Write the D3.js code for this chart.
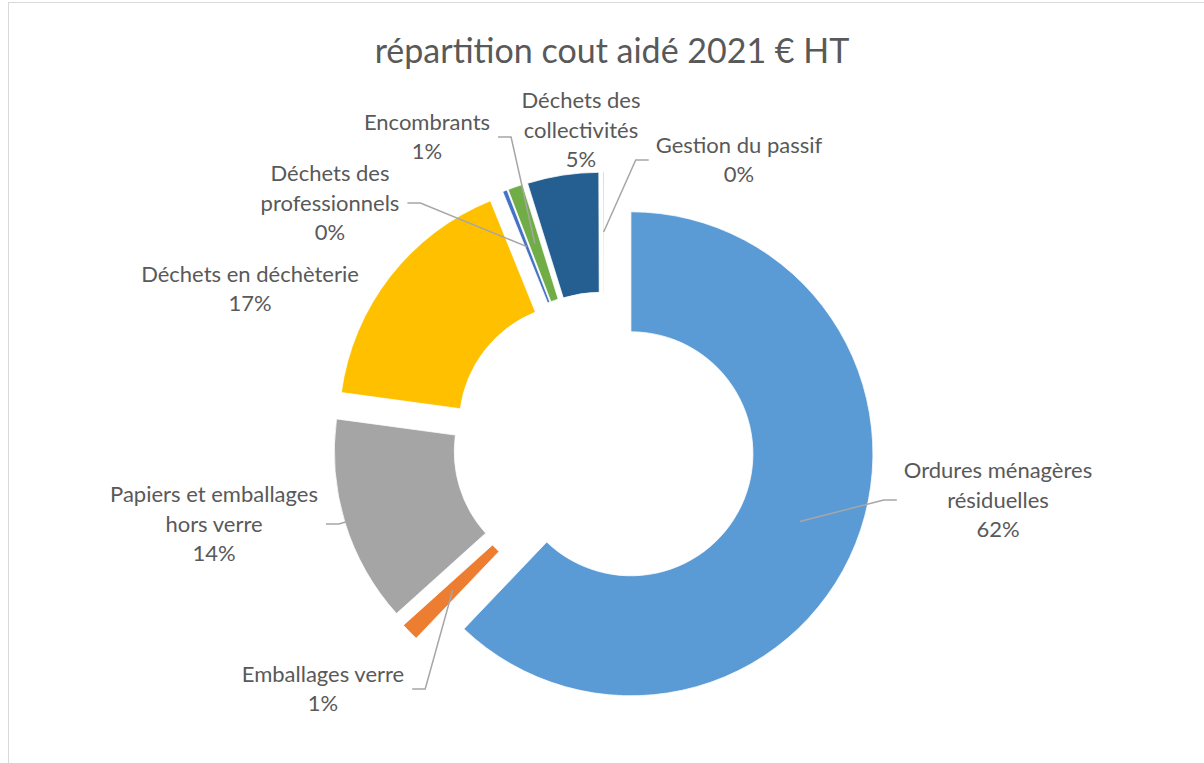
<!DOCTYPE html>
<html>
<head>
<meta charset="utf-8">
<script src="https://cdn.jsdelivr.net/npm/d3@7"></script>
<style>
  body { margin: 0; background: #fff; }
  text { font-family: Lato, "Open Sans", sans-serif; fill: #595959; }
</style>
</head>
<body>
<div id="chart"></div>
<script>
// data
var categories = ["Ordures ménagères résiduelles", "Emballages verre", "Papiers et emballages hors verre",
                  "Déchets en déchèterie", "Déchets des professionnels", "Encombrants",
                  "Déchets des collectivités", "Gestion du passif"];
var values = [62.0, 1.2, 13.8, 16.7, 0.3, 1.0, 4.75, 0.05];
var colors = ["#5B9BD5", "#ED7D31", "#A5A5A5", "#FFC000", "#4472C4", "#70AD47", "#255E91", "#9E480E"];
var title = "répartition cout aidé 2021 € HT";

// how each label is wrapped, and where its block sits
var labelLines = [["Ordures ménagères", "résiduelles"], ["Emballages verre"], ["Papiers et emballages", "hors verre"],
                  ["Déchets en déchèterie"], ["Déchets des", "professionnels"], ["Encombrants"],
                  ["Déchets des", "collectivités"], ["Gestion du passif"]];
var labelPos = [
  {x: 998, y: 500, stub: "left"},
  {x: 323, y: 689, stub: "right"},
  {x: 214, y: 524, stub: "right"},
  {x: 250, y: 289, stub: null},
  {x: 330, y: 203, stub: "right"},
  {x: 427, y: 137, stub: "right"},
  {x: 581, y: 130, stub: null},
  {x: 739, y: 160, stub: "left"}
];

var width = 1204, height = 763;
var cx = 604, cy = 443, outerR = 242, innerR = 122, explode = 29;
var lineH = 29.5;

var svg = d3.select("#chart")
            .append("svg")
            .attr("width", width)
            .attr("height", height);

// chart area border
svg.append("rect")
   .attr("x", 8.5).attr("y", 2.5)
   .attr("width", width + 10).attr("height", height + 10)
   .attr("fill", "none")
   .attr("stroke", "#D9D9D9");

svg.append("text")
   .attr("x", 612)
   .attr("y", 63)
   .attr("text-anchor", "middle")
   .style("font-size", "34px")
   .text(title);

var total = d3.sum(values);
var pie = d3.pie().sort(null).value(function(d) { return d; });
var arcs = pie(values);

var arc = d3.arc().innerRadius(innerR).outerRadius(outerR);

function offset(d) {
  var mid = (d.startAngle + d.endAngle) / 2;
  return [cx + explode * Math.sin(mid), cy - explode * Math.cos(mid)];
}

svg.selectAll(".slice")
   .data(arcs)
   .enter()
   .append("path")
   .attr("class", "slice")
   .attr("transform", function(d) { var o = offset(d); return "translate(" + o[0] + "," + o[1] + ")"; })
   .attr("d", arc)
   .attr("fill", function(d, i) { return colors[i]; })
   .attr("stroke", "#fff")
   .attr("stroke-width", 0.75);

// labels
var labels = svg.selectAll(".lbl")
   .data(arcs)
   .enter()
   .append("text")
   .attr("class", "lbl")
   .attr("text-anchor", "middle")
   .style("font-size", "22px");

labels.each(function(d, i) {
  var lines = labelLines[i].concat([Math.round(d.value / total * 100) + "%"]);
  var p = labelPos[i];
  var top = p.y - (lines.length - 1) * lineH / 2;
  var t = d3.select(this);
  lines.forEach(function(s, k) {
    t.append("tspan")
     .attr("x", p.x)
     .attr("y", top + k * lineH)
     .attr("dy", "0.35em")
     .text(s);
  });
});

// leader lines: from slice centroid to a short stub beside the label
labels.each(function(d, i) {
  var p = labelPos[i];
  if (!p.stub) return;
  var w = 0;
  d3.select(this).selectAll("tspan").each(function() { w = Math.max(w, this.getComputedTextLength()); });
  var o = offset(d), c = arc.centroid(d);
  var start = [o[0] + c[0], o[1] + c[1]];
  var near = p.stub === "left" ? p.x - w / 2 - 7 : p.x + w / 2 + 8;
  var far = p.stub === "left" ? near - 13 : near + 13;
  svg.append("path")
     .attr("d", d3.line()([start, [far, p.y], [near, p.y]]))
     .attr("fill", "none")
     .attr("stroke", "#A6A6A6")
     .attr("stroke-width", 1.5);
});
</script>
</body>
</html>
